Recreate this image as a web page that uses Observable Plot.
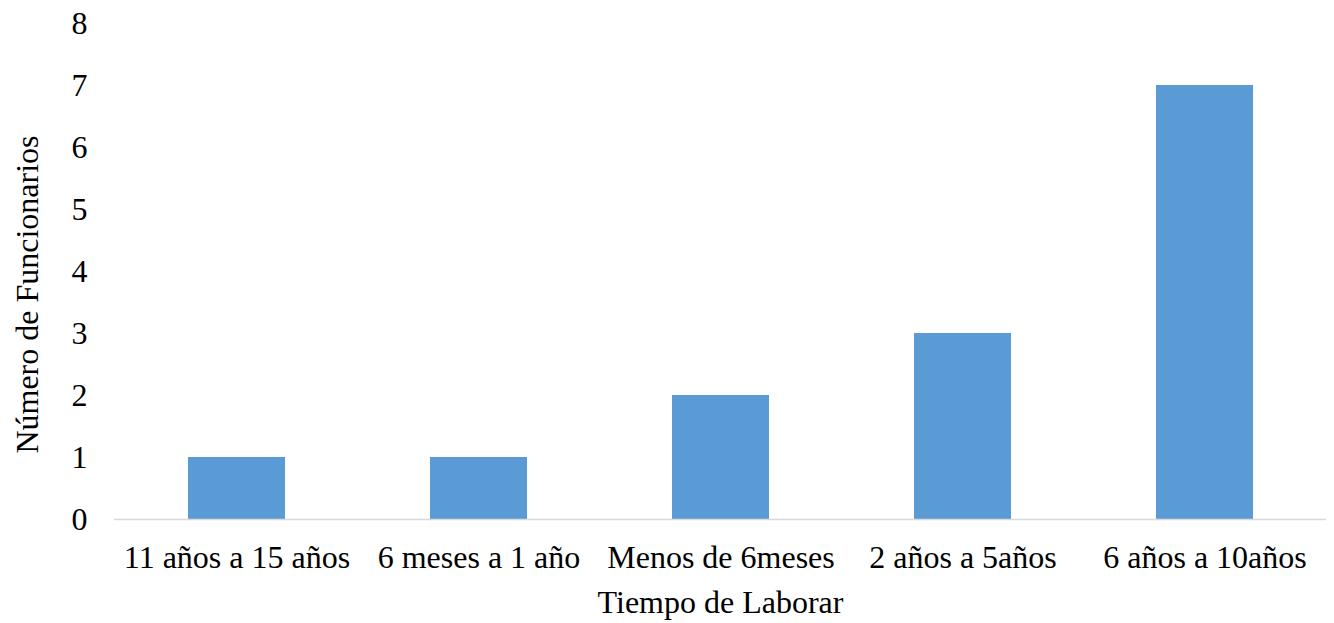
<!DOCTYPE html>
<html>
<head>
<meta charset="utf-8">
<script src="https://cdn.jsdelivr.net/npm/d3@7"></script>
<script src="https://cdn.jsdelivr.net/npm/@observablehq/plot@0.6"></script>
<style>
  html, body { margin: 0; padding: 0; background: #fff; }
</style>
</head>
<body>
<div id="chart"></div>
<script>
const categories = ["11 años a 15 años", "6 meses a 1 año", "Menos de 6meses", "2 años a 5años", "6 años a 10años"];
const values = [1, 1, 2, 3, 7];
const yTicks = [0, 1, 2, 3, 4, 5, 6, 7, 8];
const xTitle = "Tiempo de Laborar";
const yTitle = "Número de Funcionarios";

const data = categories.map((c, i) => ({category: c, value: values[i]}));

const font = "'Liberation Serif', 'Times New Roman', serif";

const chart = Plot.plot({
  width: 1334,
  height: 623,
  marginLeft: 114,
  marginRight: 8,
  marginTop: 23,
  marginBottom: 104,
  style: {fontFamily: font, fontSize: "32px", color: "#000", background: "#fff"},
  x: {domain: categories, paddingInner: 0.6, paddingOuter: 0.3, label: null},
  y: {domain: [0, 8], label: null},
  marks: [
    Plot.barY(data, {x: "category", y: "value", fill: "#5B9BD5"}),
    Plot.ruleY([0], {stroke: "#D9D9D9", strokeWidth: 1.5}),
    Plot.axisY({ticks: yTicks, tickSize: 0, tickPadding: 27, label: null, fontSize: 32}),
    Plot.axisX({tickSize: 0, tickPadding: 26, label: null, fontSize: 32}),
    Plot.text([xTitle], {frameAnchor: "bottom", textAnchor: "middle", lineAnchor: "middle", text: d => d, dy: 83, fontSize: 32, fill: "#000"}),
    Plot.text([yTitle], {frameAnchor: "left", textAnchor: "middle", lineAnchor: "middle", text: d => d, rotate: -90, dx: -87, dy: 23, fontSize: 32, fill: "#000"})
  ]
});
document.getElementById("chart").appendChild(chart);
</script>
</body>
</html>
